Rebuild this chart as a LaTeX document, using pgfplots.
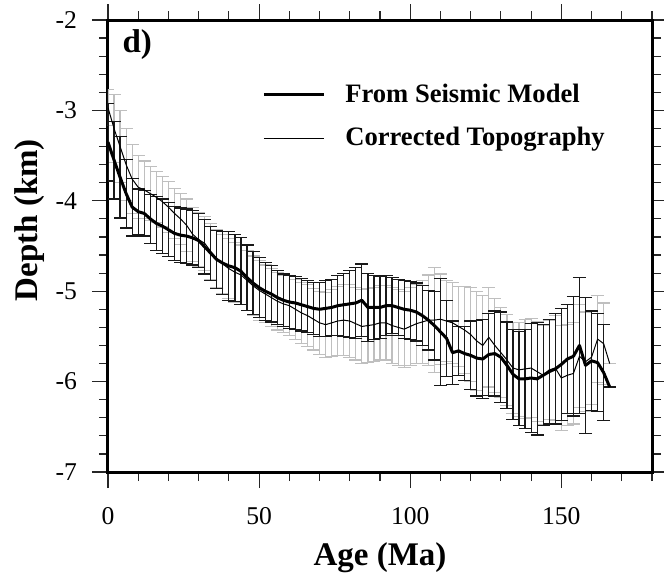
\documentclass[border=0pt]{standalone}
\usepackage{fontspec}
\setmainfont{Liberation Serif}
\usepackage{pgfplots}
\pgfplotsset{compat=1.18}
\usepackage{pgfplotstable}
\usetikzlibrary{calc}

% age (Ma), seismic-model depth and half error, corrected topography and half error (km)
\pgfplotstableread{
age seis eseis topo etopo
0 -3.35 0.43 -2.97 0.20
2 -3.55 0.43 -3.20 0.38
4 -3.74 0.45 -3.40 0.40
6 -3.92 0.38 -3.60 0.40
8 -4.07 0.32 -3.76 0.38
10 -4.12 0.25 -3.85 0.35
12 -4.14 0.25 -3.88 0.32
14 -4.20 0.27 -3.92 0.30
16 -4.25 0.30 -3.96 0.28
18 -4.28 0.30 -4.01 0.28
20 -4.32 0.30 -4.07 0.28
22 -4.36 0.30 -4.14 0.28
24 -4.38 0.30 -4.20 0.28
26 -4.39 0.30 -4.27 0.29
28 -4.41 0.30 -4.37 0.30
30 -4.44 0.30 -4.43 0.30
32 -4.51 0.30 -4.47 0.30
34 -4.58 0.30 -4.56 0.31
36 -4.65 0.32 -4.64 0.32
38 -4.69 0.35 -4.70 0.33
40 -4.72 0.38 -4.75 0.33
42 -4.74 0.37 -4.79 0.33
44 -4.78 0.37 -4.82 0.33
46 -4.85 0.36 -4.88 0.33
48 -4.91 0.35 -4.94 0.33
50 -4.96 0.33 -4.99 0.33
52 -5.00 0.32 -5.03 0.32
54 -5.03 0.31 -5.07 0.32
56 -5.07 0.30 -5.11 0.32
58 -5.10 0.29 -5.14 0.32
60 -5.12 0.29 -5.16 0.33
62 -5.13 0.29 -5.20 0.33
64 -5.15 0.29 -5.24 0.34
66 -5.17 0.29 -5.27 0.34
68 -5.19 0.29 -5.31 0.34
70 -5.20 0.30 -5.35 0.35
72 -5.19 0.31 -5.37 0.36
74 -5.18 0.31 -5.35 0.37
76 -5.16 0.33 -5.33 0.38
78 -5.15 0.35 -5.32 0.39
80 -5.14 0.37 -5.33 0.40
82 -5.13 0.39 -5.36 0.40
84 -5.10 0.40 -5.39 0.41
86 -5.18 0.38 -5.38 0.41
88 -5.18 0.35 -5.37 0.41
90 -5.18 0.34 -5.35 0.41
92 -5.16 0.33 -5.35 0.41
94 -5.16 0.31 -5.38 0.42
96 -5.18 0.31 -5.40 0.42
98 -5.20 0.32 -5.42 0.42
100 -5.21 0.32 -5.39 0.43
102 -5.23 0.32 -5.36 0.44
104 -5.27 0.33 -5.34 0.46
106 -5.32 0.33 -5.32 0.50
108 -5.38 0.38 -5.32 0.58
110 -5.45 0.59 -5.31 0.50
112 -5.52 0.42 -5.33 0.45
114 -5.68 0.35 -5.35 0.45
116 -5.66 0.27 -5.39 0.44
118 -5.69 0.30 -5.43 0.48
120 -5.71 0.38 -5.48 0.52
122 -5.74 0.42 -5.55 0.55
124 -5.75 0.44 -5.60 0.55
126 -5.70 0.45 -5.51 0.55
128 -5.69 0.47 -5.60 0.52
130 -5.73 0.50 -5.68 0.50
132 -5.82 0.48 -5.76 0.50
134 -5.92 0.50 -5.85 0.50
136 -5.97 0.52 -5.87 0.52
138 -5.97 0.55 -5.86 0.55
140 -5.96 0.60 -5.85 0.55
142 -5.97 0.62 -5.89 0.55
144 -5.93 0.56 -5.93 0.55
146 -5.89 0.58 -5.87 0.55
148 -5.86 0.61 -5.85 0.58
150 -5.81 0.62 -5.96 0.58
152 -5.75 0.60 -5.93 0.56
154 -5.72 0.66 -5.91 0.56
156 -5.60 0.75 -5.72 0.57
158 -5.82 0.75 -5.78 0.55
160 -5.77 0.55 -5.73 0.52
162 -5.79 0.54 -5.53 0.48
164 -5.90 0.53 -5.58 0.45
166 -6.06 0.00 -5.80 0.00
}\depth

\begin{document}
\begin{tikzpicture}
\begin{axis}[
    scale only axis,
    width=272bp, height=226bp,
    xmin=0, xmax=180, ymin=-7, ymax=-2,
    xtick={0,50,100,150},
    minor xtick={10,20,30,40,60,70,80,90,110,120,130,140,160,170,180},
    ytick={-7,-6,-5,-4,-3,-2},
    yticklabels={-7,-6,-5,-4,-3,-2},
    minor ytick={-6.8,-6.6,-6.4,-6.2,-5.8,-5.6,-5.4,-5.2,-4.8,-4.6,-4.4,-4.2,-3.8,-3.6,-3.4,-3.2,-2.8,-2.6,-2.4,-2.2},
    xticklabel={\pgfmathprintnumber[assume math mode=true]{\tick}},
    tick align=outside,
    major tick length=8bp, minor tick length=4.5bp,
    every tick/.style={black!85, line width=0.6bp},
    axis line style={line width=1.5bp},
    ticklabel style={font=\fontsize{12.8bp}{14bp}\selectfont},
    xticklabel style={yshift=-6bp},
    yticklabel style={xshift=-4bp},
    xlabel={\bfseries Age (Ma)},
    ylabel={\bfseries Depth (km)},
    label style={font=\fontsize{16.5bp}{19bp}\selectfont},
    xlabel style={at={(rel axis cs:0.5,0)}, anchor=base, yshift=-46.5bp},
    ylabel style={at={(rel axis cs:0,0.557)}, anchor=base, yshift=35bp},
    legend style={at={(rel axis cs:0.283,0.868)}, anchor=north west,
        draw=none, fill=none, inner sep=0pt, row sep=7bp,
        font=\bfseries\fontsize{13.3bp}{16bp}\selectfont,
        /tikz/every odd column/.append style={column sep=8bp}},
    legend cell align=left,
    legend image code/.code={\draw[#1] (0bp,0bp) -- (30bp,0bp);},
]
\coordinate (ll) at (rel axis cs:0,0);
\coordinate (ur) at (rel axis cs:1,1);

% corrected topography error bars (light grey, behind)
\addplot[draw=none, mark=none, forget plot,
    error bars/.cd, y dir=both, y explicit,
    error bar style={draw=black!25, line width=0.6bp},
    error mark options={rotate=90, draw=black!25, line width=0.6bp, mark size=3.25bp}]
    table[x=age, y=topo, y error=etopo] {\depth};
% seismic model error bars
\addplot[draw=none, mark=none, forget plot,
    error bars/.cd, y dir=both, y explicit,
    error bar style={draw=black!90, line width=0.6bp},
    error mark options={rotate=90, draw=black!90, line width=0.6bp, mark size=3.25bp}]
    table[x=age, y=seis, y error=eseis] {\depth};

\addplot[black, mark=none, line width=1.5bp, line join=round] table[x=age, y=seis] {\depth};
\addlegendentry{From Seismic Model}
\addplot[black, mark=none, line width=0.5bp, line join=round] table[x=age, y=topo] {\depth};
\addlegendentry{Corrected Topography}

\node[anchor=base west, inner sep=0pt, font=\bfseries\fontsize{16.5bp}{19bp}\selectfont] at (rel axis cs:0.026,0.929) {d)};
\end{axis}
\pgfresetboundingbox
\path[use as bounding box] ($(ll)+(-54bp,-52.5bp)$) rectangle ($(ur)+(6bp,10bp)$);
\end{tikzpicture}
\end{document}
